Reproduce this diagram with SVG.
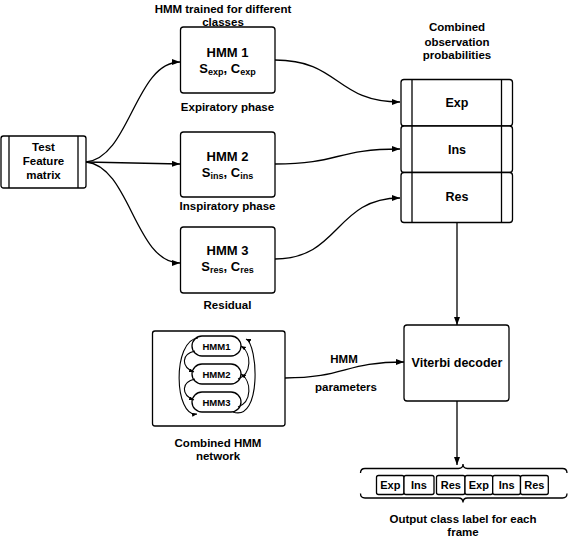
<svg xmlns="http://www.w3.org/2000/svg" width="568" height="538" viewBox="0 0 568 538">
<style>
text{font-family:"Liberation Sans",Arial,sans-serif;font-weight:bold;fill:#000;text-anchor:middle}
.box{fill:#fff;stroke:#000;stroke-width:1.3}
.ln{fill:none;stroke:#000;stroke-width:1.3}
.c{fill:none;stroke:#000;stroke-width:1.3;marker-end:url(#ah)}
.cs{fill:none;stroke:#000;stroke-width:1.1;marker-end:url(#as)}
.lb{font-size:11.5px}
.t13{font-size:13px}
.t12{font-size:12.5px}
.sm{font-size:9.5px}
.ob{font-size:11px}
</style>
<defs>
<marker id="ah" markerUnits="userSpaceOnUse" markerWidth="9" markerHeight="7" refX="8" refY="3" orient="auto"><path d="M0,0 L8,3 L0,6 z" fill="#000"/></marker>
<marker id="as" markerUnits="userSpaceOnUse" markerWidth="6" markerHeight="5" refX="5" refY="2" orient="auto"><path d="M0,0 L5,2 L0,4 z" fill="#000"/></marker>
</defs>

<text class="lb" x="223" y="13">HMM trained for different</text>
<text class="lb" x="223" y="26">classes</text>
<text class="lb" x="457" y="31">Combined</text>
<text class="lb" x="457" y="46">observation</text>
<text class="lb" x="457" y="59">probabilities</text>

<g id="test">
<rect class="box" x="1" y="136" width="85" height="52" rx="2.5"/>
<line class="ln" x1="9" y1="136" x2="9" y2="188"/>
<line class="ln" x1="78" y1="136" x2="78" y2="188"/>
<text class="lb" x="43.5" y="151">Test</text>
<text class="lb" x="43.5" y="165">Feature</text>
<text class="lb" x="43.5" y="179">matrix</text>
</g>

<g id="hmm1">
<rect class="box" x="180.5" y="27" width="94.5" height="66" rx="3"/>
<text class="t13" x="227.5" y="57">HMM 1</text>
<text class="t13" x="227.5" y="73">S<tspan font-size="9" dy="2">exp</tspan><tspan dy="-2">, C</tspan><tspan font-size="9" dy="2">exp</tspan></text>
<text class="lb" x="227.5" y="111">Expiratory phase</text>
</g>
<g id="hmm2">
<rect class="box" x="180.5" y="132" width="94.5" height="65" rx="3"/>
<text class="t13" x="227.5" y="161">HMM 2</text>
<text class="t13" x="227.5" y="177">S<tspan font-size="9" dy="2">ins</tspan><tspan dy="-2">, C</tspan><tspan font-size="9" dy="2">ins</tspan></text>
<text class="lb" x="227.5" y="210">Inspiratory phase</text>
</g>
<g id="hmm3">
<rect class="box" x="180.5" y="227" width="94.5" height="66" rx="3"/>
<text class="t13" x="227.5" y="255">HMM 3</text>
<text class="t13" x="227.5" y="271">S<tspan font-size="9" dy="2">res</tspan><tspan dy="-2">, C</tspan><tspan font-size="9" dy="2">res</tspan></text>
<text class="lb" x="227.5" y="309">Residual</text>
</g>

<g id="combined">
<rect class="box" x="401" y="79.5" width="111.5" height="46.5" rx="3"/>
<line class="ln" x1="412" y1="79.5" x2="412" y2="126"/>
<line class="ln" x1="501.5" y1="79.5" x2="501.5" y2="126"/>
<text class="t12" x="457" y="107">Exp</text>
<rect class="box" x="401" y="126" width="111.5" height="46.5" rx="3"/>
<line class="ln" x1="412" y1="126" x2="412" y2="172.5"/>
<line class="ln" x1="501.5" y1="126" x2="501.5" y2="172.5"/>
<text class="t12" x="457" y="153.5">Ins</text>
<rect class="box" x="401" y="172.5" width="111.5" height="50" rx="3"/>
<line class="ln" x1="412" y1="172.5" x2="412" y2="222.5"/>
<line class="ln" x1="501.5" y1="172.5" x2="501.5" y2="222.5"/>
<text class="t12" x="457" y="200.5">Res</text>
</g>

<g id="viterbi">
<rect class="box" x="404" y="325" width="105" height="76" rx="3"/>
<text class="t12" x="457" y="366.5">Viterbi decoder</text>
</g>

<g id="network">
<rect class="box" x="152.5" y="331" width="132.5" height="95" rx="2.5"/>
<rect class="box" x="192" y="336" width="49" height="20" rx="10"/>
<text class="sm" x="216.5" y="349.5">HMM1</text>
<rect class="box" x="192" y="364" width="49" height="20" rx="10"/>
<text class="sm" x="216.5" y="377.5">HMM2</text>
<rect class="box" x="192" y="392" width="49" height="20" rx="10"/>
<text class="sm" x="216.5" y="405.5">HMM3</text>
<path class="cs" d="M195,351 C181,354 181,367 194,372"/>
<path class="cs" d="M195,379 C181,382 181,395 194,400"/>
<path class="cs" d="M198,338 C172,340 174,418 197,414"/>
<path class="cs" d="M238,407 C252,402 252,381 241,374"/>
<path class="cs" d="M238,379 C252,374 252,353 241,346"/>
<path class="cs" d="M233,412 C262,422 258,344 246,339"/>
<text class="lb" x="218" y="447">Combined HMM</text>
<text class="lb" x="218" y="460">network</text>
</g>

<g id="output">
<path class="ln" d="M360.5,473 Q360.5,468.5 365,468.5 L458.5,468.5 Q463,468.5 463,464 Q463,468.5 467.5,468.5 L562.5,468.5 Q567,468.5 567,473"/>
<path class="ln" d="M360.5,493.5 Q360.5,498 365,498 L458.5,498 Q463,498 463,502.5 Q463,498 467.5,498 L562.5,498 Q567,498 567,493.5"/>
<rect class="box" x="376.5" y="475.5" width="27.5" height="19" rx="2"/>
<text class="ob" x="390.3" y="489">Exp</text>
<rect class="box" x="404" y="475.5" width="30" height="19" rx="2"/>
<text class="ob" x="419" y="489">Ins</text>
<rect class="box" x="436.5" y="475.5" width="28.5" height="19" rx="2"/>
<text class="ob" x="450.8" y="489">Res</text>
<rect class="box" x="465" y="475.5" width="27.7" height="19" rx="2"/>
<text class="ob" x="478.8" y="489">Exp</text>
<rect class="box" x="492.7" y="475.5" width="27.8" height="19" rx="2"/>
<text class="ob" x="506.6" y="489">Ins</text>
<rect class="box" x="520.5" y="475.5" width="27.8" height="19" rx="2"/>
<text class="ob" x="534.4" y="489">Res</text>
<text class="lb" x="463" y="523">Output class label for each</text>
<text class="lb" x="463" y="536">frame</text>
</g>

<g id="connectors">
<path class="c" d="M86,162 C130,158 135,62 180,62"/>
<path class="c" d="M86,162 L180,164"/>
<path class="c" d="M86,162 C130,166 135,263 180,263"/>
<path class="c" d="M275,60 C340,60 335,102 400,102"/>
<path class="c" d="M275,164 C340,164 335,149 400,149"/>
<path class="c" d="M275,259 C340,259 335,198 400,198"/>
<path class="c" d="M457,223 L457,325"/>
<path class="c" d="M285,378 C345,378 345,362 404,362"/>
<path class="c" d="M457,401 L457,465"/>
<text class="lb" x="344" y="363">HMM</text>
<text class="lb" x="346" y="391">parameters</text>
</g>
</svg>
